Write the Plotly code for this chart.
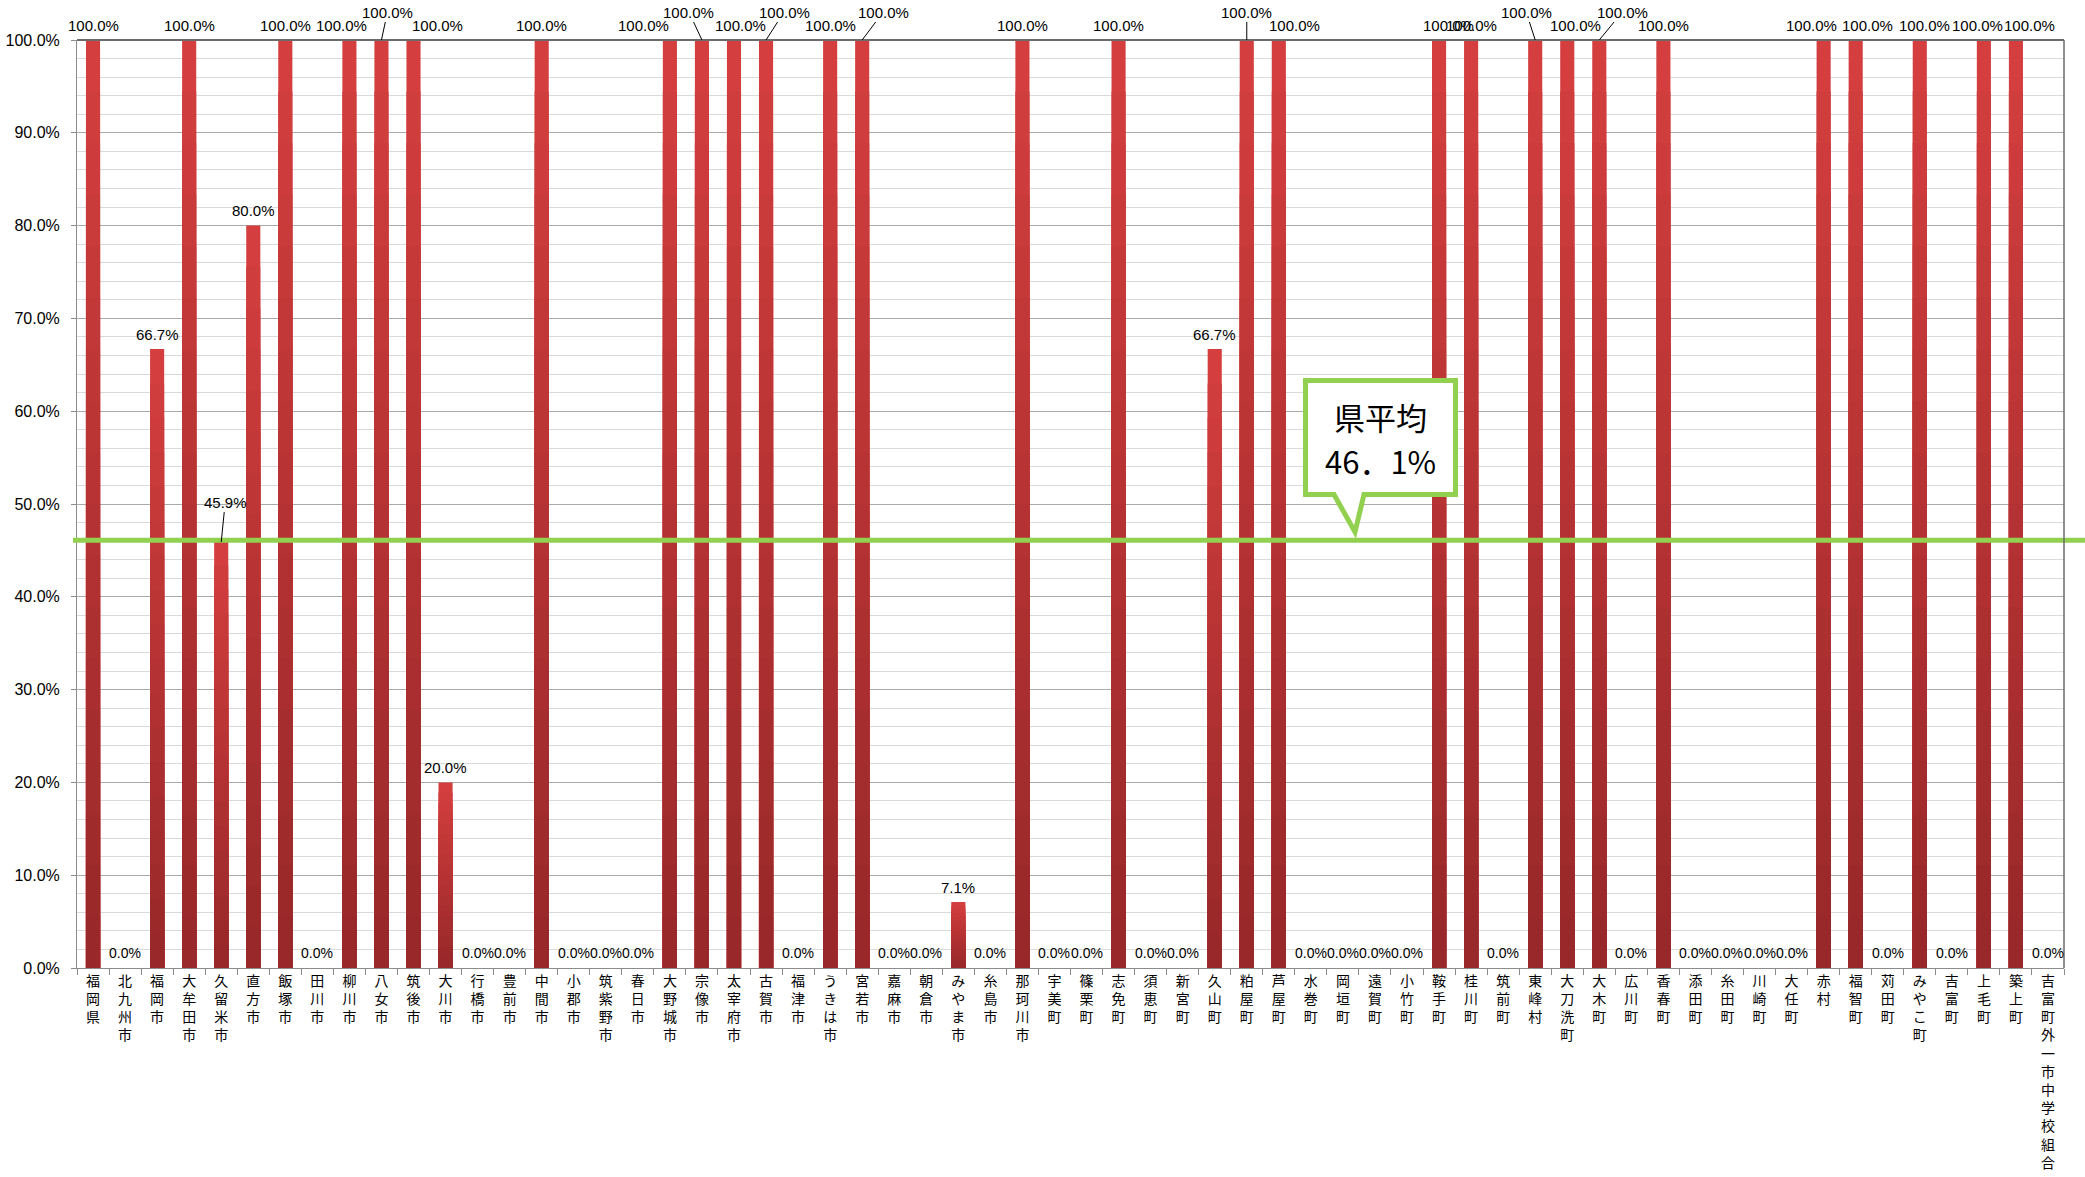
import plotly.graph_objects as go

# ---------------- data ----------------
categories = [
    "福岡県", "北九州市", "福岡市", "大牟田市", "久留米市", "直方市", "飯塚市", "田川市",
    "柳川市", "八女市", "筑後市", "大川市", "行橋市", "豊前市", "中間市", "小郡市",
    "筑紫野市", "春日市", "大野城市", "宗像市", "太宰府市", "古賀市", "福津市", "うきは市",
    "宮若市", "嘉麻市", "朝倉市", "みやま市", "糸島市", "那珂川市", "宇美町", "篠栗町",
    "志免町", "須恵町", "新宮町", "久山町", "粕屋町", "芦屋町", "水巻町", "岡垣町",
    "遠賀町", "小竹町", "鞍手町", "桂川町", "筑前町", "東峰村", "大刀洗町", "大木町",
    "広川町", "香春町", "添田町", "糸田町", "川崎町", "大任町", "赤村", "福智町",
    "苅田町", "みやこ町", "吉富町", "上毛町", "築上町", "吉富町外一市中学校組合",
]
values = [
    100.0, 0.0, 66.7, 100.0, 45.9, 80.0, 100.0, 0.0,
    100.0, 100.0, 100.0, 20.0, 0.0, 0.0, 100.0, 0.0,
    0.0, 0.0, 100.0, 100.0, 100.0, 100.0, 0.0, 100.0,
    100.0, 0.0, 0.0, 7.1, 0.0, 100.0, 0.0, 0.0,
    100.0, 0.0, 0.0, 66.7, 100.0, 100.0, 0.0, 0.0,
    0.0, 0.0, 100.0, 100.0, 0.0, 100.0, 100.0, 100.0,
    0.0, 100.0, 0.0, 0.0, 0.0, 0.0, 100.0, 100.0,
    0.0, 100.0, 0.0, 100.0, 100.0, 0.0,
]
prefecture_average = 46.1
average_label_title = "県平均"
average_label_value = "46．1%"

# ---------------- label placement (pixel offsets, styling only) ----------------
label_dx = {8: -8, 10: 24, 18: -26, 20: 7, 37: 16, 42: 9, 46: 8,
            54: -12, 55: 12, 57: 5, 59: -6, 60: 14}
raised_labels = {4: (4, -40), 9: (6, -28), 19: (-13, -28), 21: (18, -28), 24: (21, -28),
                 36: (0, -28), 45: (-9, -28), 47: (23, -28)}

# ---------------- geometry of the page ----------------
W, H = 2085, 1177
ML, MR, MT, MB = 77, 21, 40, 209
PW, PH = W - ML - MR, H - MT - MB

def px(x):
    return (x - ML) / PW

def py(y):
    return (H - MB - y) / PH

GREEN = "#92D050"
TOP_RED = (212, 62, 62)
BOTTOM_RED = (152, 40, 41)

fig = go.Figure()

# gradient bars: base trace + progressively shorter, darker overlays
N_LAYERS = 18
for k in range(N_LAYERS):
    t = k / (N_LAYERS - 1)
    col = tuple(round(TOP_RED[i] + (BOTTOM_RED[i] - TOP_RED[i]) * t) for i in range(3))
    frac = (N_LAYERS - k) / N_LAYERS
    fig.add_trace(go.Bar(
        x=categories,
        y=[v * frac for v in values] if k else values,
        width=0.44,
        marker=dict(color="rgb(%d,%d,%d)" % col, line=dict(width=0)),
        hoverinfo="skip" if k else None,
        showlegend=False,
    ))

# data labels
label_font = dict(family="Liberation Sans, Arial, sans-serif", size=15, color="#000000")
zero_font = dict(family="Liberation Sans, Arial, sans-serif", size=14, color="#000000")
for i, (c, v) in enumerate(zip(categories, values)):
    txt = f"{v:.1f}%"
    if i in raised_labels:
        ax, ay = raised_labels[i]
        fig.add_annotation(x=c, y=v, text=txt, showarrow=True, ax=ax, ay=ay,
                           arrowhead=0, arrowwidth=1, arrowcolor="#000000",
                           standoff=0, startstandoff=0, font=label_font)
    else:
        fig.add_annotation(x=c, y=v, text=txt, showarrow=False, yshift=15,
                           xshift=label_dx.get(i, 0), yanchor="middle",
                           font=zero_font if v == 0 else label_font)

# prefecture average line
fig.add_shape(type="line", xref="paper", yref="y", x0=px(73), x1=px(2085),
              y0=prefecture_average, y1=prefecture_average,
              line=dict(color=GREEN, width=5), layer="above")

# callout box
L, R, T, B = px(1305.5), px(1455.5), py(380.5), py(494.5)
b1, b2 = px(1334), px(1364)
tipx, tipy = px(1355), py(532)
path = (f"M {L},{T} L {R},{T} L {R},{B} L {b2},{B} L {tipx},{tipy} "
        f"L {b1},{B} L {L},{B} Z")
fig.add_shape(type="path", xref="paper", yref="paper", path=path,
              fillcolor="white", line=dict(color=GREEN, width=5), layer="above")
callout_font = dict(family="Noto Sans CJK JP, sans-serif", size=31, color="#000000")
fig.add_annotation(xref="paper", yref="paper", x=px(1380), y=py(416),
                   text=average_label_title, showarrow=False, font=callout_font)
fig.add_annotation(xref="paper", yref="paper", x=px(1380), y=py(460),
                   text=average_label_value, showarrow=False, font=callout_font)

# darker top / right frame
fig.add_shape(type="line", xref="paper", yref="paper", x0=0, x1=1, y0=1, y1=1,
              line=dict(color="#6b6b6b", width=2), layer="above")
fig.add_shape(type="line", xref="paper", yref="paper", x0=1, x1=1, y0=0, y1=1,
              line=dict(color="#6b6b6b", width=1.5), layer="above")

# vertical (stacked) category labels
tick_text = ["<br>".join(list(c)) for c in categories]

fig.update_layout(
    width=W, height=H,
    margin=dict(l=ML, r=MR, t=MT, b=MB, pad=0, autoexpand=False),
    paper_bgcolor="white", plot_bgcolor="white",
    barmode="overlay",
    showlegend=False,
    xaxis=dict(
        type="category", automargin=False,
        range=[-0.5, len(categories) - 0.5],
        tickmode="array", tickvals=categories, ticktext=tick_text,
        tickson="boundaries", ticks="outside", ticklen=6, tickcolor="#8c8c8c",
        showline=True, linecolor="#8c8c8c", linewidth=1,
        showgrid=False, tickangle=0,
        tickfont=dict(family="Noto Sans CJK JP, sans-serif", size=14, color="#000000"),
        fixedrange=True,
    ),
    yaxis=dict(
        range=[0, 100], dtick=10, tickformat=".1f", ticksuffix="%", automargin=False,
        ticks="outside", ticklen=5, tickcolor="#8c8c8c",
        showline=True, linecolor="#8c8c8c", linewidth=1,
        showgrid=True, gridcolor="#ababab", gridwidth=1,
        minor=dict(dtick=2, showgrid=True, gridcolor="#dadada", gridwidth=1),
        zeroline=False,
        tickfont=dict(family="Liberation Sans, Arial, sans-serif", size=16, color="#000000"),
        ticklabelstandoff=8,
        fixedrange=True,
    ),
)

fig.write_html(
    "out.html",
    config={"displayModeBar": False},
    post_script="document.body.style.margin='0';document.body.style.overflow='hidden';",
)
